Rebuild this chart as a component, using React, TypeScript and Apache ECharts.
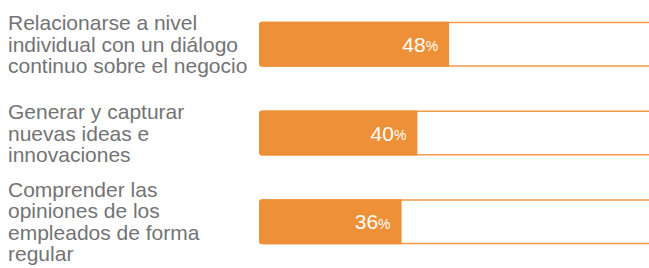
import React, { useEffect, useRef } from "react";
import * as echarts from "echarts";

const categories = [
  "Relacionarse a nivel\nindividual con un diálogo\ncontinuo sobre el negocio",
  "Generar y capturar\nnuevas ideas e\ninnovaciones",
  "Comprender las\nopiniones de los\nempleados de forma\nregular",
];
const values = [48, 40, 36];
const trackValues = [100, 100, 100];

const FONT = "Helvetica, Arial, 'Liberation Sans', sans-serif";

export default function App() {
  const ref = useRef<HTMLDivElement>(null);
  useEffect(() => {
    if (!ref.current) return;
    const chart = echarts.init(ref.current, null, { renderer: "svg" });
    chart.setOption({
      animation: false,
      grid: { left: 259, right: 5, top: -3, bottom: 2, containLabel: false },
      xAxis: { type: "value", min: 0, max: 100, show: false },
      yAxis: {
        type: "category",
        inverse: true,
        data: categories,
        axisLine: { show: false },
        axisTick: { show: false },
        axisLabel: {
          align: "left",
          margin: 251,
          color: "#737376",
          fontSize: 21,
          lineHeight: 21.5,
          fontFamily: FONT,
        },
      },
      series: [
        {
          type: "bar",
          data: trackValues,
          barWidth: 45,
          silent: true,
          itemStyle: {
            color: "#ffffff",
            borderColor: "#F29A48",
            borderWidth: 1.5,
            borderRadius: [3, 0, 0, 3],
          },
          z: 1,
        },
        {
          type: "bar",
          data: values,
          barWidth: 45,
          barGap: "-100%",
          itemStyle: { color: "#EE9037", borderRadius: [3, 0, 0, 3] },
          z: 2,
          label: {
            show: true,
            position: "insideRight",
            distance: 11,
            formatter: (p: any) => `{a|${p.value}}{b|%}`,
            rich: {
              a: { color: "#ffffff", fontSize: 21, fontFamily: FONT },
              b: { color: "#ffffff", fontSize: 14, padding: [4, 0, 0, 0], fontFamily: FONT },
            },
          },
        },
      ],
    });
    return () => chart.dispose();
  }, []);
  return (
    <div style={{ position: "absolute", left: 0, top: 0, width: 649, height: 268, overflow: "hidden" }}>
      <div ref={ref} style={{ width: 660, height: 268 }} />
    </div>
  );
}
